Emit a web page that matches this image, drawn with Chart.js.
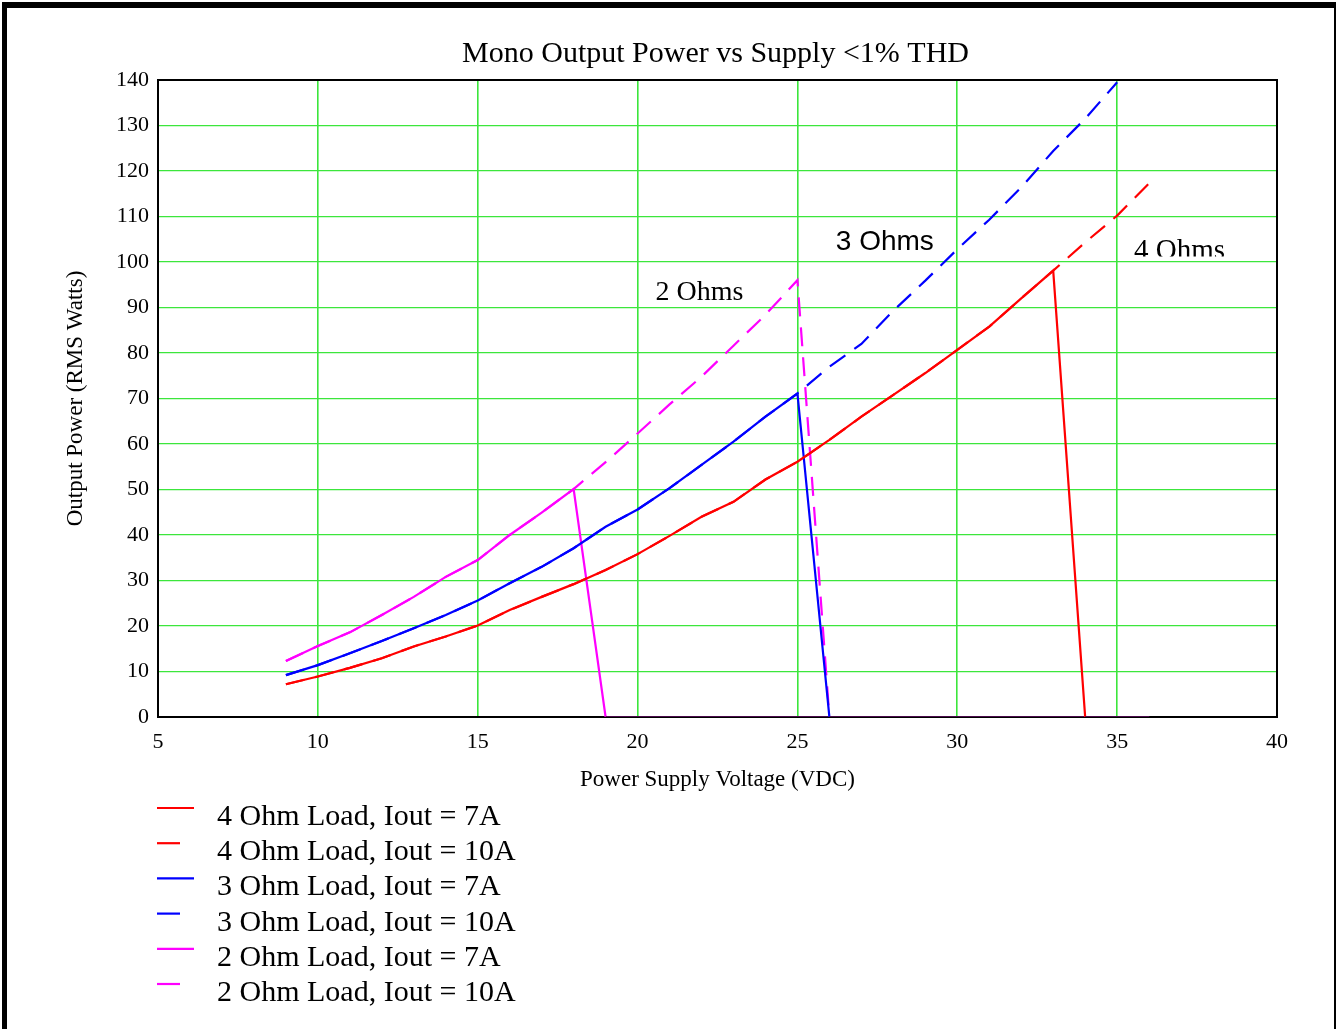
<!DOCTYPE html>
<html>
<head>
<meta charset="utf-8">
<script src="https://cdn.jsdelivr.net/npm/chart.js@4"></script>
<style>
  html, body { margin: 0; padding: 0; background: #fff; overflow: hidden; }
  #frame { position: absolute; left: 2px; top: 2px; width: 1338px; height: 1040px;
           box-sizing: border-box; border: 6px solid #000; border-left-width: 5px; background: #fff; }
  #canvas { position: absolute; left: 0; top: 0; }
</style>
</head>
<body>
<div id="frame"></div>
<canvas id="canvas" width="1336" height="1029"></canvas>
<script>
// supply voltage (VDC)
var volts = [9, 10, 11, 12, 13, 14, 15, 16, 17, 18, 19, 20, 21, 22, 23, 24, 25, 26, 27, 28, 29, 30, 31, 32, 33, 34, 35, 36];

// output power (RMS watts)
var ohm4_7A  = [7.2, 8.9, 10.8, 12.9, 15.5, 17.7, 20.1, 23.5, 26.4, 29.2, 32.3, 35.8, 39.8, 44.0, 47.3, 52.2, 56.1, 60.9, 66.0, 70.8, 75.6, 80.7, 85.8, 92.0, 98.1, 0, 0, 0];
var ohm4_10A = [7.2, 8.9, 10.8, 12.9, 15.5, 17.7, 20.1, 23.5, 26.4, 29.2, 32.3, 35.8, 39.8, 44.0, 47.3, 52.2, 56.1, 60.9, 66.0, 70.8, 75.6, 80.7, 85.8, 92.0, 98.1, 104.3, 110.2, 117.3];
var ohm3_7A  = [9.2, 11.4, 14.0, 16.7, 19.5, 22.4, 25.6, 29.4, 33.0, 37.1, 41.8, 45.6, 50.3, 55.4, 60.5, 66.0, 71.1, 0, 0, 0, 0, 0, 0, 0, 0, 0, 0, 0];
var ohm3_10A = [9.2, 11.4, 14.0, 16.7, 19.5, 22.4, 25.6, 29.4, 33.0, 37.1, 41.8, 45.6, 50.3, 55.4, 60.5, 66.0, 71.1, 77.0, 82.0, 89.3, 95.9, 102.8, 109.3, 116.4, 124.4, 131.5, 139.5, null];
var ohm2_7A  = [12.3, 15.6, 18.6, 22.4, 26.4, 30.8, 34.5, 40.0, 44.9, 50.1, 0, 0, 0, 0, 0, 0, 0, 0, 0, 0, 0, 0, 0, 0, 0, 0, 0, 0];
var ohm2_10A = [12.3, 15.6, 18.6, 22.4, 26.4, 30.8, 34.5, 40.0, 44.9, 50.1, 56.0, 62.3, 68.7, 74.8, 81.6, 88.4, 96.0, 0, 0, 0, 0, 0, 0, 0, 0, 0, 0, 0];

var seriesNames = ["4 Ohm Load, Iout = 7A", "4 Ohm Load, Iout = 10A", "3 Ohm Load, Iout = 7A",
                   "3 Ohm Load, Iout = 10A", "2 Ohm Load, Iout = 7A", "2 Ohm Load, Iout = 10A"];
var xTicks = [5, 10, 15, 20, 25, 30, 35, 40];
var yTicks = [0, 10, 20, 30, 40, 50, 60, 70, 80, 90, 100, 110, 120, 130, 140];

var serif = "'Liberation Serif', 'Times New Roman', serif";
var sans = "'Liberation Sans', Arial, sans-serif";
var gridGreen = "#3ce63c";
var zeroColor = "#4b0a4b";
var dash = [19, 11];

function pts(arr) {
	return volts.map(function(v, i) {
		return { x: v, y: arr[i] };
	});
}

function makeSet(label, arr, color, dashed) {
	return {
		label: label,
		data: pts(arr),
		borderColor: color,
		borderWidth: 2.2,
		borderDash: dashed ? dash : [],
		pointRadius: 0,
		tension: 0,
		fill: false,
		spanGaps: false,
		isDashed: dashed,
		segment: {
			borderColor: function(c) {
				return (c.p0.parsed.y === 0 && c.p1.parsed.y === 0) ? zeroColor : undefined;
			},
			borderDash: function(c) {
				return (c.p0.parsed.y === 0 && c.p1.parsed.y === 0) ? [] : undefined;
			}
		}
	};
}

// title, frame, region labels and legend
var decor = {
	id: 'decor',
	beforeDatasetsDraw: function(chart) {
		var ctx = chart.ctx, a = chart.chartArea;
		ctx.save();
		ctx.strokeStyle = '#000';
		ctx.lineWidth = 2;
		ctx.strokeRect(a.left, a.top, a.right - a.left, a.bottom - a.top);
		ctx.restore();
	},
	afterDraw: function(chart) {
		var ctx = chart.ctx, a = chart.chartArea;
		var xs = chart.scales.x, ys = chart.scales.y;
		ctx.save();
		ctx.fillStyle = '#000';
		ctx.textBaseline = 'alphabetic';

		ctx.font = '30px ' + serif;
		ctx.textAlign = 'center';
		ctx.fillText('Mono Output Power vs Supply <1% THD', (a.left + a.right) / 2 - 2, 62);

		ctx.textAlign = 'left';
		ctx.font = '28px ' + serif;
		ctx.fillText('2 Ohms', xs.getPixelForValue(20.56), ys.getPixelForValue(91.6));
		ctx.font = '28px ' + sans;
		ctx.fillText('3 Ohms', xs.getPixelForValue(26.2), ys.getPixelForValue(102.6));

		// the 4 Ohms label is cut off just above the 100 W line
		ctx.save();
		ctx.beginPath();
		ctx.rect(xs.getPixelForValue(35.2), ys.getPixelForValue(110), 200, ys.getPixelForValue(101.2) - ys.getPixelForValue(110));
		ctx.clip();
		ctx.font = '29px ' + serif;
		ctx.fillText('4 Ohms', xs.getPixelForValue(35.53), ys.getPixelForValue(100.7));
		ctx.restore();

		// legend
		ctx.font = '30px ' + serif;
		chart.data.datasets.forEach(function(ds, i) {
			var ly = 808 + i * 35.2;
			ctx.beginPath();
			ctx.strokeStyle = ds.borderColor;
			ctx.lineWidth = 2.2;
			ctx.setLineDash([]);
			ctx.moveTo(157, ly);
			ctx.lineTo(ds.isDashed ? 180 : 194, ly);
			ctx.stroke();
			ctx.fillText(ds.label, 217, 825 + i * 35.2);
		});
		ctx.restore();
	}
};

const ctx = document.getElementById('canvas').getContext('2d');

const myChart = new Chart(ctx, {
	type: 'line',
	data: {
		datasets: [
			makeSet(seriesNames[0], ohm4_7A, '#ff0000', false),
			makeSet(seriesNames[1], ohm4_10A, '#ff0000', true),
			makeSet(seriesNames[2], ohm3_7A, '#0000ff', false),
			makeSet(seriesNames[3], ohm3_10A, '#0000ff', true),
			makeSet(seriesNames[4], ohm2_7A, '#ff00ff', false),
			makeSet(seriesNames[5], ohm2_10A, '#ff00ff', true)
		]
	},
	options: {
		responsive: false,
		devicePixelRatio: 1,
		animation: false,
		layout: {
			padding: { left: 0, top: 80, right: 59, bottom: 232 }
		},
		plugins: {
			legend: { display: false },
			title: { display: false },
			tooltip: { enabled: false }
		},
		scales: {
			x: {
				type: 'linear',
				min: 5,
				max: 40,
				afterFit: function(s) { s.height = 80; },
				afterBuildTicks: function(s) {
					s.ticks = xTicks.map(function(v) { return { value: v }; });
				},
				ticks: {
					color: '#000',
					padding: 12,
					maxRotation: 0,
					font: { family: serif, size: 22 }
				},
				grid: { color: gridGreen, lineWidth: 1.6, drawTicks: false },
				border: { display: false },
				title: {
					display: true,
					text: 'Power Supply Voltage (VDC)',
					color: '#000',
					font: { family: serif, size: 23 },
					padding: { top: 0, bottom: 3 }
				}
			},
			y: {
				min: 0,
				max: 140,
				afterFit: function(s) { s.width = 158; },
				afterBuildTicks: function(s) {
					s.ticks = yTicks.map(function(v) { return { value: v }; });
				},
				ticks: {
					color: '#000',
					padding: 9,
					font: { family: serif, size: 22 }
				},
				grid: { color: gridGreen, lineWidth: 1.2, drawTicks: false },
				border: { display: false },
				title: {
					display: true,
					text: 'Output Power (RMS Watts)',
					color: '#000',
					font: { family: serif, size: 23 },
					padding: { top: 62, bottom: 0 }
				}
			}
		}
	},
	plugins: [decor]
});
</script>
</body>
</html>
